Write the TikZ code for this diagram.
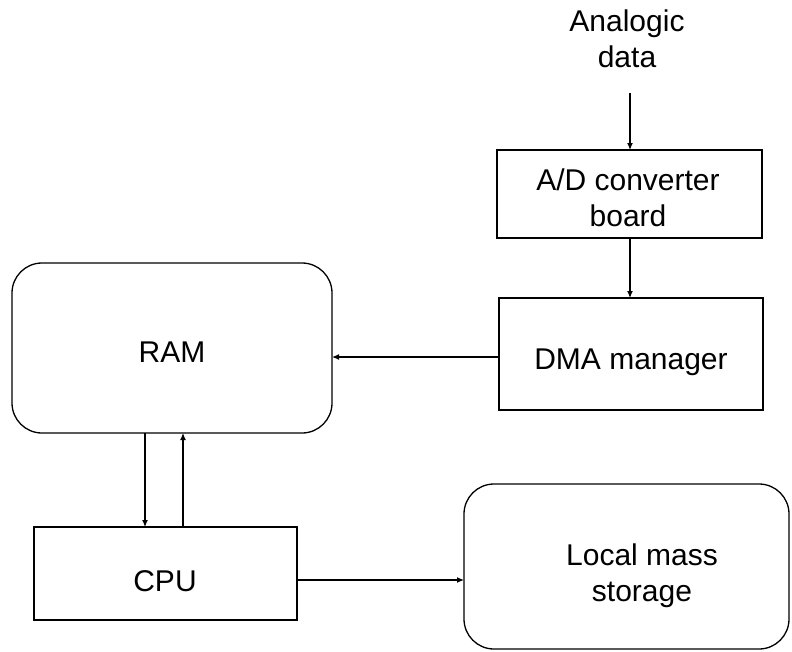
\documentclass[tikz,border=0pt]{standalone}
\usepackage{fontspec}
\setmainfont{Liberation Sans}
\usetikzlibrary{arrows.meta}
\begin{document}
\begin{tikzpicture}[x=1pt,y=-1pt,
  box/.style={draw,line width=1.3pt,inner sep=0pt,outer sep=0pt},
  rbox/.style={box,rounded corners=30pt},
  lbl/.style={font=\fontsize{30}{36}\selectfont,align=center,inner sep=0pt},
  arr/.style={line width=1.2pt,-{Latex[length=7pt,width=6pt]}}]
\useasboundingbox (0,0) rectangle (792,651);

% boxes
\node[box,minimum width=265pt,minimum height=88pt]  (ad)    at (629.5,194) {};
\node[box,minimum width=264pt,minimum height=112pt] (dma)   at (631,354) {};
\node[rbox,minimum width=320pt,minimum height=170pt] (ram)  at (172,348) {};
\node[box,minimum width=263pt,minimum height=93pt]  (cpu)   at (165.5,573.5) {};
\node[rbox,minimum width=325pt,minimum height=165pt] (store) at (626.5,566.5) {};

% labels
\node[lbl] (inlbl)    at (627,39)    {Analogic\\data};
\node[lbl] (adlbl)    at (628,198)   {A/D converter\\board};
\node[lbl] (dmalbl)   at (631,362)   {DMA manager};
\node[lbl] (ramlbl)   at (172,352.5) {RAM};
\node[lbl] (cpulbl)   at (165,581.5) {CPU};
\node[lbl] (storelbl) at (642,576)   {Local mass\\storage};

% data flow
\coordinate (inp) at (630,93);
\draw[arr] (inp) -- (inp |- ad.north);
\draw[arr] (inp |- ad.south) -- (inp |- dma.north);
\draw[arr] ([yshift=-3pt]dma.west) -- ([yshift=-3pt]dma.west -| ram.east);
\draw[arr] ([xshift=-27pt]ram.south) -- ([xshift=-27pt]ram.south |- cpu.north);
\draw[arr] ([xshift=11pt]ram.south |- cpu.north) -- ([xshift=11pt]ram.south);
\draw[arr] ([yshift=-6.5pt]cpu.east) -- ([yshift=-6.5pt]cpu.east -| store.west);
\end{tikzpicture}
\end{document}
